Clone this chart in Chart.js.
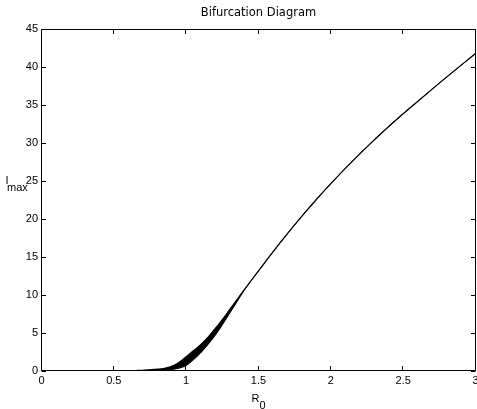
<!DOCTYPE html>
<html>
<head>
<meta charset="utf-8">
<title>Bifurcation Diagram</title>
<script src="https://cdn.jsdelivr.net/npm/chart.js@4/dist/chart.umd.min.js"></script>
<style>
  html, body { margin: 0; padding: 0; background: #fff; overflow: hidden; }
  canvas { display: block; }
</style>
</head>
<body>
<canvas id="c" width="477" height="409"></canvas>
<script>
// Basic reproduction number values
const r0 = [0.65, 0.70, 0.75, 0.80, 0.85, 0.90, 0.95, 1.00, 1.05, 1.10, 1.15, 1.20, 1.25, 1.30, 1.35, 1.40,
            1.50, 1.60, 1.70, 1.80, 1.90, 2.00, 2.20, 2.40, 2.60, 2.80, 3.00];
// Upper and lower envelope of the peak infective count (the band collapses to one curve above R0 ~ 1.4)
const iUpper = [0.00, 0.03, 0.10, 0.18, 0.30, 0.55, 1.05, 1.80, 2.60, 3.40, 4.35, 5.50, 6.70, 8.00, 9.30, 10.60,
                13.10, 15.60, 18.00, 20.30, 22.50, 24.60, 28.50, 32.10, 35.40, 38.60, 41.70];
const iLower = [0.00, 0.00, 0.03, 0.05, 0.08, 0.14, 0.30, 0.65, 1.40, 2.30, 3.40, 4.60, 6.00, 7.50, 9.00, 10.50,
                13.10, 15.60, 18.00, 20.30, 22.50, 24.60, 28.50, 32.10, 35.40, 38.60, 41.70];

const xTicks = [0, 0.5, 1, 1.5, 2, 2.5, 3];
const yTicks = [0, 5, 10, 15, 20, 25, 30, 35, 40, 45];

const titleText = 'Bifurcation Diagram';
const xLabel = { main: 'R', sub: '0' };
const yLabel = { main: 'I', sub: 'max' };

const FONT = "'Liberation Sans', Arial, Helvetica, sans-serif";
Chart.defaults.font.family = FONT;
Chart.defaults.font.size = 11;
Chart.defaults.color = '#000';

const toPts = (ys) => r0.map((x, i) => ({ x: x, y: ys[i] }));

// Box around the plot, inward tick marks on all four sides, and axis labels with subscripts
const framePlugin = {
  id: 'frame',
  afterDraw(chart) {
    const { ctx, chartArea: a, scales } = chart;
    const L = Math.round(a.left) - 0.5, R = Math.round(a.right) - 0.5;
    const T = Math.round(a.top) + 0.5, B = Math.round(a.bottom) - 0.5;
    const tl = 4.5;
    ctx.save();
    ctx.strokeStyle = '#000';
    ctx.lineWidth = 1;
    ctx.beginPath();
    ctx.rect(L, T, R - L, B - T);
    xTicks.forEach(v => {
      const px = Math.round(scales.x.getPixelForValue(v)) - 0.5;
      ctx.moveTo(px, B); ctx.lineTo(px, B - tl);
      ctx.moveTo(px, T); ctx.lineTo(px, T + tl);
    });
    yTicks.forEach(v => {
      const py = Math.round(scales.y.getPixelForValue(v)) + 0.5;
      ctx.moveTo(L, py); ctx.lineTo(L + tl, py);
      ctx.moveTo(R, py); ctx.lineTo(R - tl, py);
    });
    ctx.stroke();

    ctx.fillStyle = '#000';
    ctx.font = '11px ' + FONT;
    ctx.textBaseline = 'alphabetic';
    ctx.textAlign = 'left';
    // x axis label: R with subscript 0
    const cx = (a.left + a.right) / 2;
    const wR = ctx.measureText(xLabel.main).width;
    const wS = ctx.measureText(xLabel.sub).width;
    const x0 = cx - (wR + wS) / 2;
    ctx.fillText(xLabel.main, x0, 401.5);
    ctx.fillText(xLabel.sub, x0 + wR, 408.5);
    // y axis label: I with subscript max, set under the I
    ctx.fillText(yLabel.main, 5.5, 183.5);
    ctx.fillText(yLabel.sub, 7, 190.5);
    ctx.restore();
  }
};

new Chart(document.getElementById('c'), {
  type: 'line',
  data: {
    datasets: [
      {
        data: toPts(iLower),
        borderColor: '#000',
        borderWidth: 1,
        pointRadius: 0,
        fill: false,
        cubicInterpolationMode: 'monotone'
      },
      {
        data: toPts(iUpper),
        borderColor: '#000',
        backgroundColor: '#000',
        borderWidth: 1.2,
        pointRadius: 0,
        fill: '-1',
        cubicInterpolationMode: 'monotone'
      }
    ]
  },
  options: {
    responsive: false,
    animation: false,
    events: [],
    layout: { padding: { left: 0, right: 1.5, top: 0, bottom: 0 } },
    plugins: {
      legend: { display: false },
      tooltip: { enabled: false },
      title: {
        display: true,
        text: titleText,
        fullSize: false,
        color: '#000',
        font: { family: "'DejaVu Sans', 'Liberation Sans', sans-serif", size: 11.5, weight: 'normal', lineHeight: 1.2 },
        padding: { top: 6.4, bottom: 8.3 }
      }
    },
    scales: {
      x: {
        type: 'linear',
        min: 0,
        max: 3,
        grid: { display: false, drawTicks: false },
        border: { display: false },
        afterBuildTicks: (s) => { s.ticks = xTicks.map(v => ({ value: v })); },
        ticks: { padding: 4, maxRotation: 0, autoSkip: false, callback: (v) => String(v) },
        afterFit: (s) => { s.height = 38.5; s.paddingLeft = 0; s.paddingRight = 0; }
      },
      y: {
        type: 'linear',
        min: 0,
        max: 45,
        grid: { display: false, drawTicks: false },
        border: { display: false },
        afterBuildTicks: (s) => { s.ticks = yTicks.map(v => ({ value: v })); },
        ticks: { padding: 3.5, autoSkip: false, callback: (v) => String(v) },
        afterFit: (s) => { s.width = 41.5; s.paddingTop = 0; s.paddingBottom = 0; }
      }
    }
  },
  plugins: [framePlugin]
});
</script>
</body>
</html>
